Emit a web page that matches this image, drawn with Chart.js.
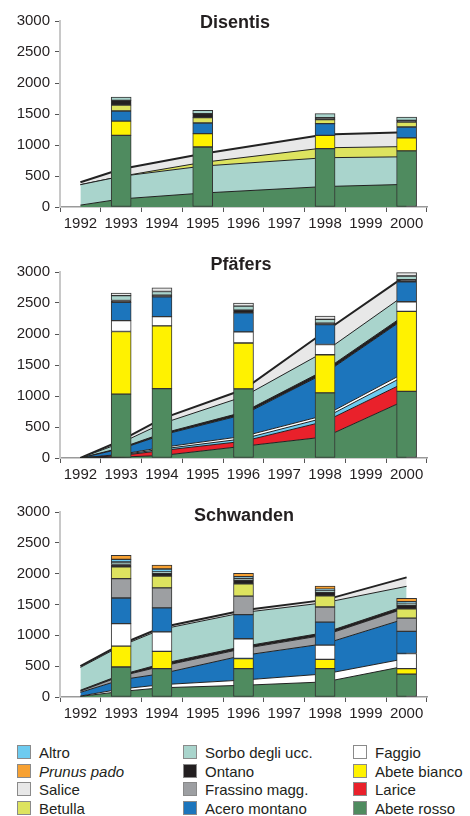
<!DOCTYPE html>
<html>
<head>
<meta charset="utf-8">
<script src="https://cdn.jsdelivr.net/npm/chart.js@4.4.1/dist/chart.umd.min.js"></script>
<style>
  body { margin: 0; width: 470px; height: 816px; background: #fff; position: relative; overflow: hidden;
         font-family: "Liberation Sans", Arial, sans-serif; color: #231f20; }
  canvas { position: absolute; left: 0; }
  .item { position: absolute; font-size: 15px; line-height: 18px; white-space: nowrap; }
  .sw { display: inline-block; width: 12px; height: 12px; border: 1px solid #8a8a8a; vertical-align: -1px; margin-right: 8px; }
</style>
</head>
<body>
<canvas id="c1" width="470" height="245" style="top:0px"></canvas>
<canvas id="c2" width="470" height="245" style="top:250px"></canvas>
<canvas id="c3" width="470" height="232" style="top:495px"></canvas>
<div id="legend"></div>
<script>
const years = ['1992', '1993', '1994', '1995', '1996', '1997', '1998', '1999', '2000'];

// colours per species
const speciesColors = {
  'Abete rosso': '#4f8b5f',
  'Larice': '#e9212b',
  'Abete bianco': '#fff200',
  'Faggio': '#ffffff',
  'Acero montano': '#1c75bc',
  'Frassino magg.': '#9d9fa2',
  'Betulla': '#dde35f',
  'Ontano': '#231f20',
  'Sorbo degli ucc.': '#a9d4cc',
  'Salice': '#e8e8e8',
  'Altro': '#6dcbf0',
  'Prunus pado': '#f7a132'
};

// Disentis
const disentisBarYears = ['1993', '1995', '1998', '2000'];
const disentisBars = {
  'Abete rosso': [1156, 968, 941, 905],
  'Abete bianco': [228, 215, 215, 210],
  'Acero montano': [165, 172, 189, 175],
  'Betulla': [95, 86, 64, 80],
  'Ontano': [75, 64, 30, 27],
  'Sorbo degli ucc.': [55, 54, 66, 55]
};
const disentisAreaYears = ['1992', '1993', '1995', '1998', '2000'];
const disentisAreas = {
  'Abete rosso': [30, 130, 225, 330, 365],
  'Sorbo degli ucc.': [330, 365, 435, 465, 445],
  'Betulla': [0, 0, 60, 160, 165],
  'Salice': [40, 117, 140, 215, 230]
};

// Pfäfers
const pfaefersBarYears = ['1993', '1994', '1996', '1998', '2000'];
const pfaefersBars = {
  'Abete rosso': [1030, 1120, 1115, 1050, 1075],
  'Abete bianco': [1010, 1010, 740, 615, 1290],
  'Faggio': [175, 150, 180, 165, 155],
  'Acero montano': [295, 320, 305, 320, 320],
  'Ontano': [30, 25, 45, 25, 35],
  'Sorbo degli ucc.': [80, 60, 65, 60, 60],
  'Salice': [40, 60, 50, 55, 55]
};
const pfaefersAreaYears = ['1992', '1993', '1994', '1996', '1998', '2000'];
const pfaefersAreas = {
  'Abete rosso': [0, 15, 40, 190, 340, 940],
  'Larice': [0, 25, 80, 80, 250, 290],
  'Altro': [0, 10, 25, 40, 60, 110],
  'Faggio': [0, 10, 25, 40, 40, 50],
  'Acero montano': [0, 90, 200, 350, 680, 880],
  'Ontano': [0, 15, 25, 40, 50, 54],
  'Sorbo degli ucc.': [0, 80, 160, 250, 300, 325],
  'Salice': [0, 40, 80, 115, 320, 300]
};

// Schwanden
const schwandenBarYears = ['1993', '1994', '1996', '1998', '2000'];
const schwandenBars = {
  'Abete rosso': [486, 460, 460, 460, 370],
  'Abete bianco': [340, 280, 165, 150, 90],
  'Faggio': [363, 315, 320, 230, 245],
  'Acero montano': [416, 390, 390, 375, 360],
  'Frassino magg.': [314, 325, 300, 245, 215],
  'Betulla': [190, 190, 200, 180, 150],
  'Ontano': [40, 50, 60, 60, 60],
  'Sorbo degli ucc.': [40, 20, 30, 25, 30],
  'Altro': [43, 45, 25, 25, 25],
  'Prunus pado': [65, 65, 55, 50, 55]
};
const schwandenAreaYears = ['1992', '1993', '1994', '1996', '1998', '2000'];
const schwandenAreas = {
  'Abete rosso': [10, 90, 150, 190, 245, 505],
  'Faggio': [5, 40, 50, 85, 130, 120],
  'Acero montano': [60, 150, 180, 400, 490, 650],
  'Frassino magg.': [20, 60, 120, 110, 140, 170],
  'Ontano': [15, 20, 40, 35, 40, 40],
  'Sorbo degli ucc.': [370, 470, 560, 550, 485, 310],
  'Salice': [20, 25, 30, 35, 45, 145]
};

// legend, read column by column
const legendColumns = [
  ['Altro', 'Prunus pado', 'Salice', 'Betulla'],
  ['Sorbo degli ucc.', 'Ontano', 'Frassino magg.', 'Acero montano'],
  ['Faggio', 'Abete bianco', 'Larice', 'Abete rosso']
];

Chart.defaults.font.family = '"Liberation Sans", Arial, sans-serif';
Chart.defaults.color = '#231f20';

// draws the panel name inside the plot
const panelTitle = {
  id: 'panelTitle',
  afterDraw(chart, args, opts) {
    const ctx = chart.ctx;
    ctx.save();
    ctx.font = 'bold 18px "Liberation Sans", Arial, sans-serif';
    ctx.fillStyle = '#231f20';
    ctx.textAlign = 'center';
    ctx.textBaseline = 'middle';
    ctx.fillText(opts.text, opts.x, opts.y);
    ctx.restore();
  }
};

function makePanel(id, title, barYears, bars, areaYears, areas, padTop, axisHeight, titleX, titleY) {
  const datasets = [];
  const areaNames = Object.keys(areas);
  areaNames.forEach((name, i) => {
    datasets.push({
      type: 'line',
      label: name,
      stack: 'area',
      order: 1,
      data: areaYears.map((x, j) => ({ x: x, y: areas[name][j] })),
      backgroundColor: speciesColors[name],
      borderColor: '#222',
      borderWidth: i === areaNames.length - 1 ? 2 : 1,
      fill: 'stack',
      pointRadius: 0,
      tension: 0
    });
  });
  Object.keys(bars).forEach(name => {
    datasets.push({
      type: 'bar',
      label: name,
      stack: 'bar',
      order: 0,
      data: barYears.map((x, j) => ({ x: x, y: bars[name][j] })),
      backgroundColor: speciesColors[name],
      borderColor: '#333',
      borderWidth: 1,
      borderSkipped: false,
      barThickness: 20
    });
  });

  new Chart(document.getElementById(id), {
    type: 'bar',
    data: { labels: years, datasets: datasets },
    options: {
      responsive: false,
      animation: false,
      layout: { padding: { top: padTop, right: 43, bottom: 0, left: 0 } },
      plugins: {
        legend: { display: false },
        tooltip: { enabled: false },
        panelTitle: { text: title, x: titleX, y: titleY }
      },
      scales: {
        x: {
          type: 'category',
          offset: true,
          stacked: true,
          grid: { offset: true, drawOnChartArea: false, tickLength: 5, color: '#555' },
          border: { color: '#9a9a9a', width: 1.5 },
          ticks: { font: { size: 15 }, padding: 3, maxRotation: 0, autoSkip: false },
          afterFit: s => { s.height = axisHeight; }
        },
        y: {
          stacked: true,
          min: 0,
          max: 3000,
          ticks: { stepSize: 500, font: { size: 15 }, padding: 5, callback: v => String(v) },
          grid: { drawOnChartArea: false, tickLength: 5, color: '#555' },
          border: { color: '#c8c8c8', width: 2 },
          afterFit: s => { s.width = 60; }
        }
      }
    },
    plugins: [panelTitle]
  });
}

makePanel('c1', 'Disentis', disentisBarYears, disentisBars, disentisAreaYears, disentisAreas, 21, 38, 235, 23);
makePanel('c2', 'Pfäfers', pfaefersBarYears, pfaefersBars, pfaefersAreaYears, pfaefersAreas, 22, 37, 241, 15);
makePanel('c3', 'Schwanden', schwandenBarYears, schwandenBars, schwandenAreaYears, schwandenAreas, 17, 30, 244, 21);

// html legend
const legend = document.getElementById('legend');
const colLeft = [17, 183, 353];
legendColumns.forEach((col, c) => {
  col.forEach((name, r) => {
    const item = document.createElement('div');
    item.className = 'item';
    item.style.left = colLeft[c] + 'px';
    item.style.top = (744 + r * 18.5) + 'px';
    const sw = document.createElement('span');
    sw.className = 'sw';
    sw.style.background = speciesColors[name];
    const txt = document.createElement('span');
    txt.textContent = name;
    if (name === 'Prunus pado') txt.style.fontStyle = 'italic';
    item.appendChild(sw);
    item.appendChild(txt);
    legend.appendChild(item);
  });
});
</script>
</body>
</html>
